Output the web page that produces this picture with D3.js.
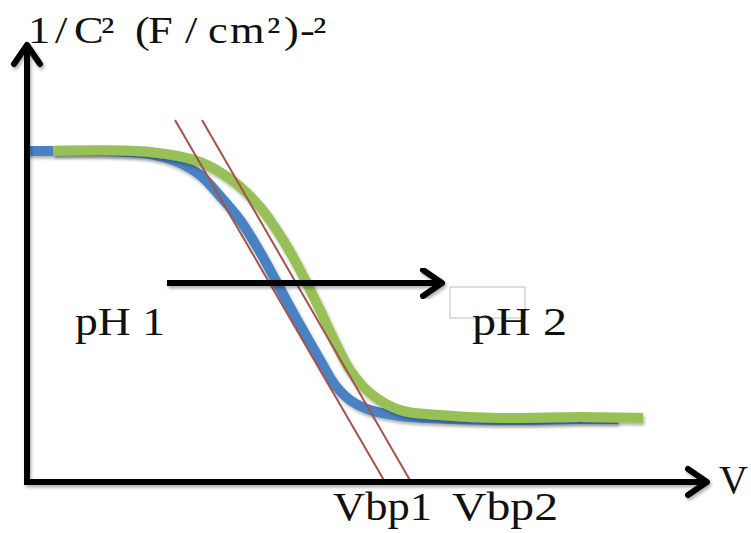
<!DOCTYPE html>
<html>
<head>
<meta charset="utf-8">
<script src="https://cdn.jsdelivr.net/npm/d3@7"></script>
<style>
  body { margin: 0; background: #fff; }
  text { font-family: "Liberation Serif", "DejaVu Serif", serif; fill: #111; }
</style>
</head>
<body>
<svg class="mott-chart"></svg>
<script>
// Schematic Mott-Schottky curves, arbitrary units (x: V, y: 1/C^2)
var bluePH1 = [
    [0, 331], [73, 331], [123, 328], [148, 321], [173, 307], [193, 286], [213, 262],
    [233, 230], [250, 199], [273, 157], [293, 122], [308, 97], [323, 82], [343, 72],
    [373, 66], [423, 63], [493, 62], [553, 63], [591, 63]
];
var greenPH2 = [
    [26, 331], [123, 330], [173, 320], [206, 301], [233, 275], [256, 242], [273, 212],
    [293, 172], [308, 140], [323, 112], [343, 89], [373, 72], [413, 67], [473, 64],
    [553, 65], [616, 64]
];
// tangent lines: [x at top, x-intercept (flat-band potential)]
var tangents = [[148, 358], [175, 384]];
var tangentTop = 362;
var flatbandLabels = ["Vbp1", "Vbp2"];
var shiftArrow = [[140, 199], [418, 199]];

var width = 751, height = 533;

var svg = d3.select(".mott-chart")
    .attr("width", width)
    .attr("height", height);

var x = d3.scaleLinear().domain([0, 683]).range([27, 710]);
var y = d3.scaleLinear().domain([0, 437]).range([482, 45]);

// soft shadow like the original
var defs = svg.append("defs");
defs.append("filter")
    .attr("id", "shadow")
    .attr("x", "-5%").attr("y", "-5%")
    .attr("width", "110%").attr("height", "115%")
    .append("feDropShadow")
    .attr("dx", 1.5).attr("dy", 2.5)
    .attr("stdDeviation", 1.5)
    .attr("flood-color", "#000")
    .attr("flood-opacity", 0.3);

var line = d3.line()
    .x(function(d) { return x(d[0]); })
    .y(function(d) { return y(d[1]); })
    .curve(d3.curveCatmullRom.alpha(0.5));

// curves
svg.append("path")
    .datum(bluePH1)
    .attr("d", line)
    .attr("fill", "none")
    .attr("stroke", "#4a82c3")
    .attr("stroke-width", 10)
    .attr("filter", "url(#shadow)");

svg.append("path")
    .datum(greenPH2)
    .attr("d", line)
    .attr("fill", "none")
    .attr("stroke", "#97c156")
    .attr("stroke-width", 10)
    .attr("filter", "url(#shadow)");

// tangent lines down to the V axis
svg.selectAll(".tangent")
    .data(tangents)
    .enter().append("line")
    .attr("class", "tangent")
    .attr("x1", function(d) { return x(d[0]); })
    .attr("y1", y(tangentTop))
    .attr("x2", function(d) { return x(d[1]); })
    .attr("y2", y(0))
    .attr("stroke", "#a3524c")
    .attr("stroke-width", 2);

// axes
var axisG = svg.append("g").attr("filter", "url(#shadow)");
axisG.append("line")
    .attr("x1", x(0)).attr("y1", y(0))
    .attr("x2", x(0)).attr("y2", y(437))
    .attr("stroke", "#000").attr("stroke-width", 6);
axisG.append("line")
    .attr("x1", x(0) - 3).attr("y1", y(0))
    .attr("x2", x(683) - 3).attr("y2", y(0))
    .attr("stroke", "#000").attr("stroke-width", 6);

// open arrow heads
function head(px, py, dir) {
    var s = 13, l = 19;
    var pts = dir === "up"
        ? [[px - s, py + l], [px, py], [px + s, py + l]]
        : [[px - l, py - s], [px, py], [px - l, py + s]];
    return d3.line()(pts);
}
axisG.append("path")
    .attr("d", head(x(0), y(437), "up"))
    .attr("fill", "none").attr("stroke", "#000")
    .attr("stroke-width", 6).attr("stroke-linecap", "round").attr("stroke-linejoin", "round");
axisG.append("path")
    .attr("d", head(x(683) - 3, y(0), "right"))
    .attr("fill", "none").attr("stroke", "#000")
    .attr("stroke-width", 6).attr("stroke-linecap", "round").attr("stroke-linejoin", "round");

// pH shift arrow
var arrowG = svg.append("g").attr("filter", "url(#shadow)");
arrowG.append("line")
    .attr("x1", x(shiftArrow[0][0])).attr("y1", y(shiftArrow[0][1]))
    .attr("x2", x(shiftArrow[1][0]) - 3).attr("y2", y(shiftArrow[1][1]))
    .attr("stroke", "#000").attr("stroke-width", 6);
arrowG.append("path")
    .attr("d", head(x(shiftArrow[1][0]) - 3, y(shiftArrow[1][1]), "right"))
    .attr("fill", "none").attr("stroke", "#000")
    .attr("stroke-width", 6).attr("stroke-linecap", "round").attr("stroke-linejoin", "round");

// empty text box left over near pH 2
svg.append("rect")
    .attr("x", 450).attr("y", 287)
    .attr("width", 75).attr("height", 31)
    .attr("fill", "none")
    .attr("stroke", "#bdbdbd")
    .attr("stroke-width", 1);

// y-axis title, glyphs placed one by one and widened a little
// to follow the broad original lettering
var titleText = "1/C² (F/cm²)-²";
var titleX = [28, 55, 74, 101, 117, 135, 148, 185, 208, 230, 267, 284, 300, 313];
var titleStretch = 1.2;
svg.append("text")
    .attr("transform", "scale(" + titleStretch + ",1)")
    .attr("x", titleX.map(function(v) { return (v / titleStretch).toFixed(1); }).join(" "))
    .attr("y", 43)
    .style("font-size", "37px")
    .text(titleText);

svg.append("text")
    .attr("x", 719).attr("y", 493)
    .attr("textLength", 29)
    .attr("lengthAdjust", "spacingAndGlyphs")
    .style("font-size", "39px")
    .text("V");

svg.append("text")
    .attr("x", 75).attr("y", 335)
    .attr("textLength", 90)
    .attr("lengthAdjust", "spacingAndGlyphs")
    .style("font-size", "41px")
    .text("pH 1");

svg.append("text")
    .attr("x", 472).attr("y", 335)
    .attr("textLength", 95)
    .attr("lengthAdjust", "spacingAndGlyphs")
    .style("font-size", "41px")
    .text("pH 2");

var labelX = [333, 452];
svg.selectAll(".vbp-label")
    .data(flatbandLabels)
    .enter().append("text")
    .attr("class", "vbp-label")
    .attr("x", function(d, i) { return labelX[i]; })
    .attr("y", 520)
    .attr("textLength", function(d, i) { return i === 0 ? 99 : 106; })
    .attr("lengthAdjust", "spacingAndGlyphs")
    .style("font-size", "40px")
    .text(function(d) { return d; });
</script>
</body>
</html>
